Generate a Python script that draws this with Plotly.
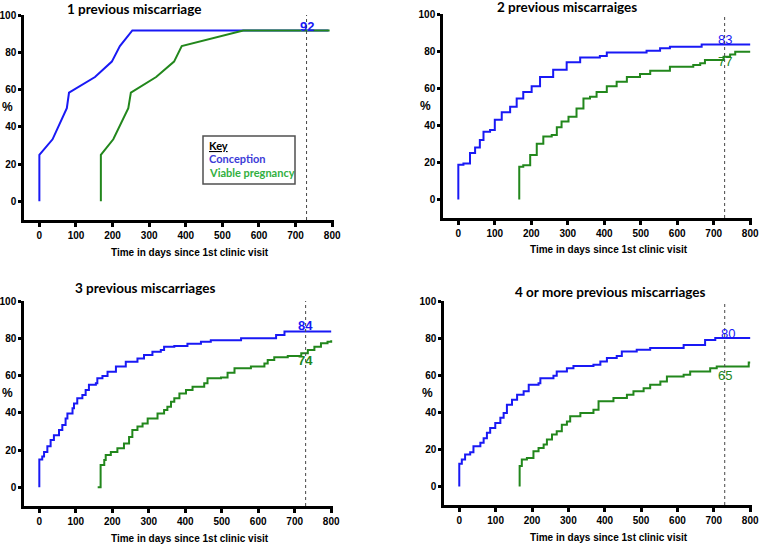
import plotly.graph_objects as go

W, H = 763, 544

# ---- data (days since 1st clinic visit, cumulative %) ----
p1_conc_days = [0, 0, 36, 56, 75, 81, 152, 198, 220, 254, 790]
p1_conc_pct = [0, 25, 33.3, 41.7, 50, 58.3, 66.7, 75, 83.3, 91.7, 91.7]
p1_viab_days = [168, 168, 202, 222, 243, 250, 319, 368, 389, 557, 793]
p1_viab_pct = [0, 25, 33.3, 41.7, 50, 58.3, 66.7, 75, 83.3, 91.7, 91.7]

p2_conc_days = [0, 0, 14, 32, 46, 59, 69, 87, 100, 119, 142, 160, 178, 201, 224, 260,
                297, 334, 388, 407, 516, 553, 580, 667, 800]
p2_conc_pct = [0, 18.7, 19.4, 25, 28, 32, 36.5, 37.4, 43, 47, 50, 54.5, 58, 61, 66, 70,
               74, 76.6, 77.3, 79.3, 80.2, 81.5, 82.4, 83.6, 83.6]
p2_viab_days = [167, 167, 178, 197, 215, 233, 256, 270, 283, 302, 324, 343, 361, 379, 407,
                434, 462, 498, 526, 562, 580, 644, 663, 676, 713, 727, 745, 759, 800]
p2_viab_pct = [0, 17.6, 18.5, 24, 30, 34, 34.7, 39, 42, 44.6, 49, 54.5, 55.4, 58, 61,
               63.5, 66, 67.6, 69.4, 69.4, 71.6, 72.5, 73.4, 75.2, 75.2, 77, 78.2, 79.7, 79.7]

p3_conc_days = [0, 0, 8, 13, 22, 31, 40, 54, 63, 72, 77, 91, 95, 104, 118, 127, 136, 155,
                159, 173, 187, 210, 237, 269, 287, 310, 333, 342, 370, 406, 443, 470, 553,
                644, 649, 672, 800]
p3_conc_pct = [0, 15, 16.5, 19, 22, 25.4, 28, 30.8, 33.5, 37, 39.7, 42.4, 45, 47.8, 49.6,
               52.2, 55, 55.8, 58.5, 59.7, 62, 64.8, 67.4, 69.2, 71, 72.8, 73.7, 75.5, 75.8,
               77, 78.2, 79, 80, 80, 81.8, 83.6, 83.6]
p3_viab_days = [160, 168, 178, 182, 196, 214, 232, 246, 255, 269, 283, 297, 324, 342, 351,
                361, 370, 384, 402, 420, 452, 461, 498, 516, 535, 580, 617, 626, 644, 681,
                718, 736, 754, 772, 790, 800]
p3_viab_pct = [0, 12, 14.7, 17.4, 19, 21, 23.6, 27, 30.8, 32.6, 34.3, 37, 39.7, 41.5, 43.3,
               46, 47.8, 50.4, 52.2, 54, 55.8, 58.5, 59, 61.5, 63.9, 64.8, 66.5, 68.3, 69.8,
               70.5, 72, 73.7, 75.5, 77.3, 78.2, 79]

p4_conc_days = [0, 0, 7, 16, 30, 39, 58, 67, 76, 85, 99, 113, 122, 131, 145, 159, 177, 191,
                218, 223, 259, 268, 296, 314, 369, 388, 406, 433, 447, 488, 525, 617, 676,
                704, 800]
p4_conc_pct = [0, 12.2, 14.5, 17.2, 18.5, 21.7, 23.5, 26, 28.9, 31.5, 34.2, 37, 39.6, 44,
               46.8, 49.5, 51.3, 54.8, 55.7, 58.4, 59.7, 62, 63.8, 65, 65.6, 67.4, 69.2,
               70.4, 72.8, 73.7, 74.6, 76.3, 79, 80, 80]
p4_viab_days = [166, 166, 172, 186, 204, 218, 232, 241, 255, 268, 282, 296, 305, 333, 369,
                383, 424, 461, 479, 507, 525, 553, 571, 617, 635, 690, 708, 796, 800]
p4_viab_pct = [0, 11, 14.5, 15.4, 19, 20.8, 22.6, 25.3, 28, 29.7, 33.3, 35, 37.8, 39.6,
               41.4, 45.9, 47.7, 49.5, 51.3, 53, 54.8, 56.6, 59.3, 60.2, 62, 63.8, 64.7,
               66.8, 66.8]

titles = ["1 previous miscarriage", "2 previous miscarraiges",
          "3 previous miscarriages", "4 or more previous miscarriages"]
end_labels = [("92", None), ("83", "77"), ("84", "74"), ("80", "65")]
end_label_y = [(94, None), (86.3, 74.3), (86.6, 68.3), (82.6, 59.7)]
cutoff_day = 730

BLUE = "rgb(25,25,245)"
GREEN = "rgb(34,135,28)"
FONT = "Liberation Sans, Arial, sans-serif"
TFONT = "Lato, Open Sans, sans-serif"

# panel boxes in pixels: x0, x1, ytop, ybottom
boxes = [(24, 334, 15, 220), (443, 752, 14, 218), (24, 333, 301, 506), (444, 752, 301, 505)]
series = [
    (p1_conc_days, p1_conc_pct, p1_viab_days, p1_viab_pct, "linear"),
    (p2_conc_days, p2_conc_pct, p2_viab_days, p2_viab_pct, "hv"),
    (p3_conc_days, p3_conc_pct, p3_viab_days, p3_viab_pct, "hv"),
    (p4_conc_days, p4_conc_pct, p4_viab_days, p4_viab_pct, "hv"),
]
title_pos = [(134, 9), (567, 7), (145, 288), (610, 292)]

fig = go.Figure()
annotations = []
shapes = []

for i, (box, s) in enumerate(zip(boxes, series)):
    n = "" if i == 0 else str(i + 1)
    xa, ya = "x" + n, "y" + n
    x0, x1, yt, yb = box
    cd, cp, vd, vp, shape = s
    fig.add_trace(go.Scatter(x=cd, y=cp, mode="lines", line=dict(color=BLUE, width=2, shape=shape),
                             xaxis=xa, yaxis=ya, showlegend=False, hoverinfo="skip"))
    fig.add_trace(go.Scatter(x=vd, y=vp, mode="lines", line=dict(color=GREEN, width=2, shape=shape),
                             xaxis=xa, yaxis=ya, showlegend=False, hoverinfo="skip"))
    axstyle = dict(showline=True, linecolor="black", linewidth=2.5, ticks="outside",
                   tickwidth=2.5, tickcolor="black", showgrid=False, zeroline=False,
                   automargin=False,
                   tickfont=dict(family=FONT, size=10, color="black", weight="bold"))
    fig.layout["xaxis" + n] = dict(domain=[x0 / W, x1 / W], range=[-42, 805], anchor=ya, ticklen=4,
                                   tickvals=[0, 100, 200, 300, 400, 500, 600, 700, 800], **axstyle)
    fig.layout["yaxis" + n] = dict(domain=[1 - yb / H, 1 - yt / H], range=[-10, 100], anchor=xa,
                                   ticklen=3, tickvals=[0, 20, 40, 60, 80, 100], **axstyle)
    shapes.append(dict(type="line", xref=xa, yref=ya, x0=cutoff_day, x1=cutoff_day, y0=-10, y1=100,
                       line=dict(color="rgb(70,70,70)", width=1, dash="dot")))
    tx, ty = title_pos[i]
    annotations.append(dict(text=titles[i], x=tx / W, y=1 - ty / H, xref="paper", yref="paper",
                            showarrow=False, xanchor="center", yanchor="middle",
                            font=dict(family=TFONT, size=13.5, color="black", weight="bold")))
    annotations.append(dict(text="Time in days since 1st clinic visit", x=(x0 + x1) / 2 / W + 0.015,
                            y=1 - (yb + 32) / H, xref="paper", yref="paper", showarrow=False,
                            xanchor="center", yanchor="middle",
                            font=dict(family=FONT, size=10, color="black", weight="bold")))
    annotations.append(dict(text="%", x=(x0 - 17) / W, y=1 - (yt + 92) / H, xref="paper", yref="paper",
                            showarrow=False, xanchor="center", yanchor="middle",
                            font=dict(family=FONT, size=12, color="black", weight="bold")))
    bold = "bold" if i in (0, 2) else "normal"
    lc, lv = end_labels[i]
    yc, yv = end_label_y[i]
    annotations.append(dict(text=lc, x=cutoff_day + (8 if i == 3 else 0), y=yc, xref=xa, yref=ya,
                            showarrow=False, font=dict(family=FONT, size=13, color=BLUE, weight=bold)))
    if lv:
        annotations.append(dict(text=lv, x=cutoff_day, y=yv, xref=xa, yref=ya, showarrow=False,
                                font=dict(family=FONT, size=13, color=GREEN, weight=bold)))

# key box in panel 1
shapes.append(dict(type="rect", xref="paper", yref="paper", x0=203 / W, x1=295 / W,
                   y0=1 - 184 / H, y1=1 - 136 / H, line=dict(color="rgb(80,80,80)", width=1.5),
                   fillcolor="white"))
key_lines = [("<u>Key</u>", "black", 145), ("Conception", "rgb(60,60,215)", 158),
             ("Viable pregnancy", "rgb(50,175,65)", 172)]
for txt, col, py in key_lines:
    annotations.append(dict(text=txt, x=207 / W, y=1 - py / H, xref="paper", yref="paper",
                            showarrow=False, xanchor="left", yanchor="middle",
                            font=dict(family=TFONT, size=11, color=col, weight="bold")))

fig.update_layout(width=W, height=H, margin=dict(l=0, r=0, t=0, b=0),
                  plot_bgcolor="white", paper_bgcolor="white",
                  shapes=shapes, annotations=annotations)

# page body has a default 8px margin; remove it so the figure sits at the window origin
fig.write_html("out.html", config={"displayModeBar": False},
               post_script="document.body.style.margin='0';")
